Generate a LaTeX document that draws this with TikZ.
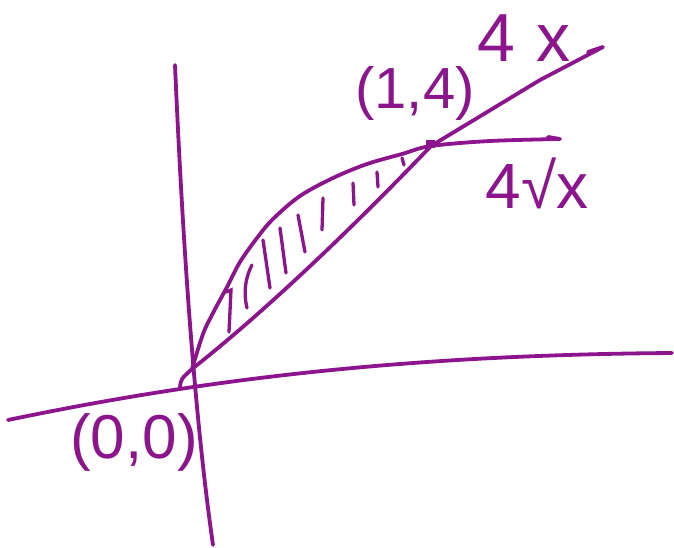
\documentclass[tikz,border=0pt]{standalone}
\usepackage{fontspec}
\setmainfont{Liberation Sans}
\usetikzlibrary{positioning,calc}
\definecolor{ink}{HTML}{8C148C}

\begin{document}
\begin{tikzpicture}[x=1pt, y=-1pt,
  pen/.style={ink, line width=3.8pt, line cap=round, line join=round},
  hatch/.style={ink, line width=3.3pt, line cap=round},
  lbl/.style={ink, inner sep=0pt}]
  \useasboundingbox (0,0) rectangle (674,548);
  % Axes
  \draw[pen] (175,65) .. controls (183,250) and (195,420) .. (213,545);
  \draw[pen] (8,420) .. controls (200,380) and (400,355) .. (672,353);
  % Meeting points
  \coordinate (O) at (192,369);
  \coordinate (P) at (431,146);
  % Line 4x
  \draw[pen] (180,387) .. controls (181,379) .. (O)
    .. controls (272,306) and (362,218) .. (P) -- (540,80) -- (603,47) -- (588,52);
  % Curve 4 sqrt x
  \draw[pen] plot[smooth, tension=0.55] coordinates {(O) (203,334) (213,313)
    (227,287) (240,262) (257,238) (273,219) (300,196) (333,178) (367,164)
    (402,154) (P) (490,141) (560,139)} -- (548,137);
  \fill[ink] (426,140) rectangle (435,148);
  % Hatching between the curves
  \draw[hatch] (226,292) -- (231,290) -- (229,332);
  \draw[hatch] (252,265) .. controls (244,280) and (244,296) .. (247,308);
  \foreach \xa/\ya/\xb/\yb in {263/240/270/288, 280/228/286/273,
    298/215/305/252, 323/198/322/230, 353/183/354/205,
    377/172/378/187, 402/158/404/165}
    \draw[hatch] (\xa,\ya) -- (\xb,\yb);
  % Labels
  \node[lbl, font=\fontsize{68}{70}\selectfont] (slope) at (524,38) {4\hspace{0.3em}x};
  \node[lbl, font=\fontsize{58}{60}\selectfont] (meet) at (415,93) {(1,4)};
  \node[lbl, font=\fontsize{64}{66}\selectfont] (root) at (537,183) {4√x};
  \node[lbl, font=\fontsize{62}{64}\selectfont] (origin) at (134,442) {(0,0)};
\end{tikzpicture}
\end{document}
